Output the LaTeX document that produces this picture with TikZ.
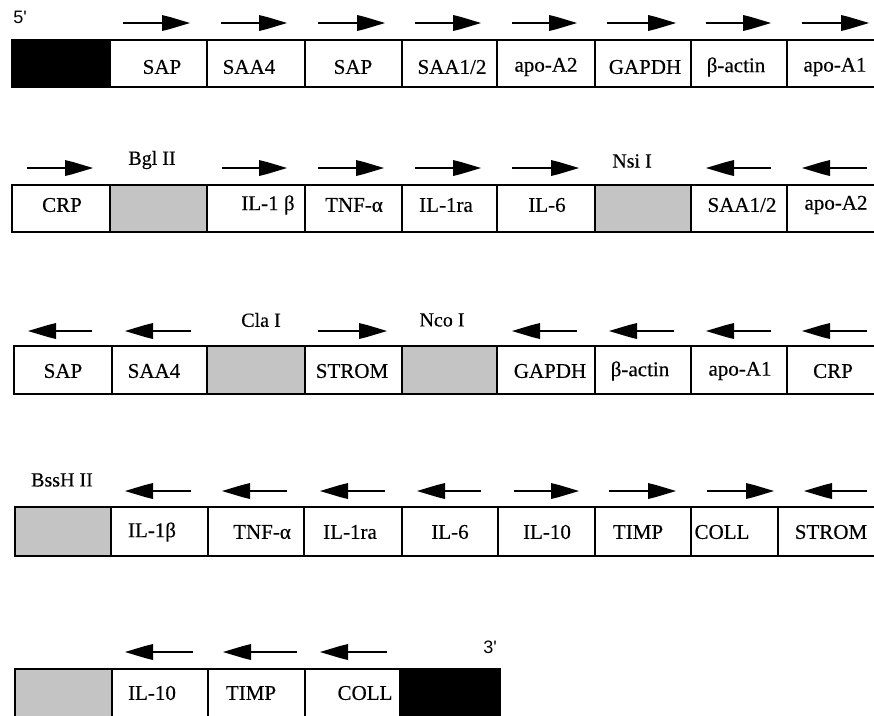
\documentclass[tikz,border=0pt]{standalone}
\usepackage{fontspec}
\setmainfont{Liberation Serif}[FakeBold=0.35]
\newfontfamily\sansf{Liberation Sans}
\newcommand\rarr[3]{\draw[arr] (#1,#3) -- (#2-20,#3); \fill (#2-28,#3-8) -- (#2-20,#3-6) -- (#2,#3) -- (#2-20,#3+6) -- (#2-28,#3+8) -- cycle;}
\newcommand\larr[3]{\draw[arr] (#2,#3) -- (#1+20,#3); \fill (#1+28,#3-8) -- (#1+20,#3-6) -- (#1,#3) -- (#1+20,#3+6) -- (#1+28,#3+8) -- cycle;}
\begin{document}
\begin{tikzpicture}[x=1pt,y=-1pt,
  box/.style={line width=1.7pt},
  lbl/.style={font=\fontsize{21}{24}\selectfont, inner sep=0pt, anchor=center},
  site/.style={font=\fontsize{20}{23}\selectfont, inner sep=0pt, anchor=center},
  prime/.style={font=\sansf\fontsize{18}{20}\selectfont, inner sep=0pt, anchor=center},
  shade/.style={fill=black!23},
  arr/.style={line width=1.8pt}]
\clip (0,0) rectangle (874,715);
\fill[white] (0,0) rectangle (874,715);

% ---------- Row 1
\fill[black] (12,40) rectangle (110,87);
\draw[box] (12,40) rectangle (885,87);
\foreach \x in {110,207,305,402,497,595,691,787} \draw[box] (\x,40) -- (\x,87);
\node[prime] (p5) at (20,17) {5'};
\node[lbl] (r1a) at (162,67) {SAP};
\node[lbl] (r1b) at (249,67) {SAA4};
\node[lbl] (r1c) at (353,67) {SAP};
\node[lbl] (r1d) at (452,67) {SAA1/2};
\node[lbl] (r1e) at (546,67) {apo-A2};
\node[lbl] (r1f) at (645,67) {GAPDH};
\node[lbl] (r1g) at (736,67) {β-actin};
\node[lbl] (r1h) at (835,67) {apo-A1};
\rarr{123}{190}{23}
\rarr{221}{287}{23}
\rarr{318}{385}{23}
\rarr{415}{481}{23}
\rarr{512}{577}{23}
\rarr{607}{676}{23}
\rarr{706}{771}{23}
\rarr{802}{869}{23}

% ---------- Row 2
\fill[shade] (110,185) rectangle (207,232);
\fill[shade] (595,185) rectangle (691,232);
\draw[box] (12,185) rectangle (885,232);
\foreach \x in {110,207,305,402,497,595,691,787} \draw[box] (\x,185) -- (\x,232);
\node[lbl] (r2a) at (62,205) {CRP};
\node[site] (bgl) at (152,160) {Bgl II};
\node[lbl] (r2c) at (268,205) {IL-1 β};
\node[lbl] (r2d) at (354,205) {TNF-α};
\node[lbl] (r2e) at (446,205) {IL-1ra};
\node[lbl] (r2f) at (547,205) {IL-6};
\node[site] (nsi) at (632,161) {Nsi I};
\node[lbl] (r2h) at (742,205) {SAA1/2};
\node[lbl] (r2i) at (836,205) {apo-A2};
\rarr{27}{93}{168}
\rarr{222}{287}{168}
\rarr{318}{384}{168}
\rarr{415}{481}{168}
\rarr{512}{579}{168}
\larr{706}{771}{168}
\larr{802}{867}{168}

% ---------- Row 3
\fill[shade] (207,346) rectangle (305,394);
\fill[shade] (402,346) rectangle (497,394);
\draw[box] (14,346) rectangle (885,394);
\foreach \x in {112,207,305,402,497,595,691,787} \draw[box] (\x,346) -- (\x,394);
\node[lbl] (r3a) at (63,371) {SAP};
\node[lbl] (r3b) at (154,371) {SAA4};
\node[site] (cla) at (261,320) {Cla I};
\node[lbl] (r3d) at (352,371) {STROM};
\node[site] (nco) at (442,320) {Nco I};
\node[lbl] (r3f) at (550,371) {GAPDH};
\node[lbl] (r3g) at (640,371) {β-actin};
\node[lbl] (r3h) at (740,371) {apo-A1};
\node[lbl] (r3i) at (833,371) {CRP};
\larr{28}{92}{331}
\larr{125}{191}{331}
\rarr{318}{387}{331}
\larr{512}{577}{331}
\larr{609}{674}{331}
\larr{706}{771}{331}
\larr{802}{867}{331}

% ---------- Row 4
\fill[shade] (15,507) rectangle (111,556);
\draw[box] (15,507) rectangle (885,556);
\foreach \x in {111,208,304,402,498,595,691,778} \draw[box] (\x,507) -- (\x,556);
\node[site] (bss) at (62,480) {BssH II};
\node[lbl] (r4b) at (152,532) {IL-1β};
\node[lbl] (r4c) at (262,532) {TNF-α};
\node[lbl] (r4d) at (350,532) {IL-1ra};
\node[lbl] (r4e) at (450,532) {IL-6};
\node[lbl] (r4f) at (547,532) {IL-10};
\node[lbl] (r4g) at (638,532) {TIMP};
\node[lbl] (r4h) at (722,532) {COLL};
\node[lbl] (r4i) at (831,532) {STROM};
\larr{125}{191}{491}
\larr{222}{287}{491}
\larr{320}{385}{491}
\larr{417}{481}{491}
\rarr{514}{579}{491}
\rarr{609}{676}{491}
\rarr{707}{774}{491}
\larr{804}{867}{491}

% ---------- Row 5
\fill[shade] (15,669) rectangle (112,720);
\fill[black] (400,669) rectangle (500,720);
\draw[box] (15,669) rectangle (500,720);
\foreach \x in {112,208,305,400} \draw[box] (\x,669) -- (\x,720);
\node[lbl] (r5b) at (152,693) {IL-10};
\node[lbl] (r5c) at (251,693) {TIMP};
\node[lbl] (r5d) at (365,693) {COLL};
\node[prime] (p3) at (490,647) {3'};
\larr{125}{193}{652}
\larr{223}{297}{652}
\larr{320}{387}{652}
\end{tikzpicture}
\end{document}
